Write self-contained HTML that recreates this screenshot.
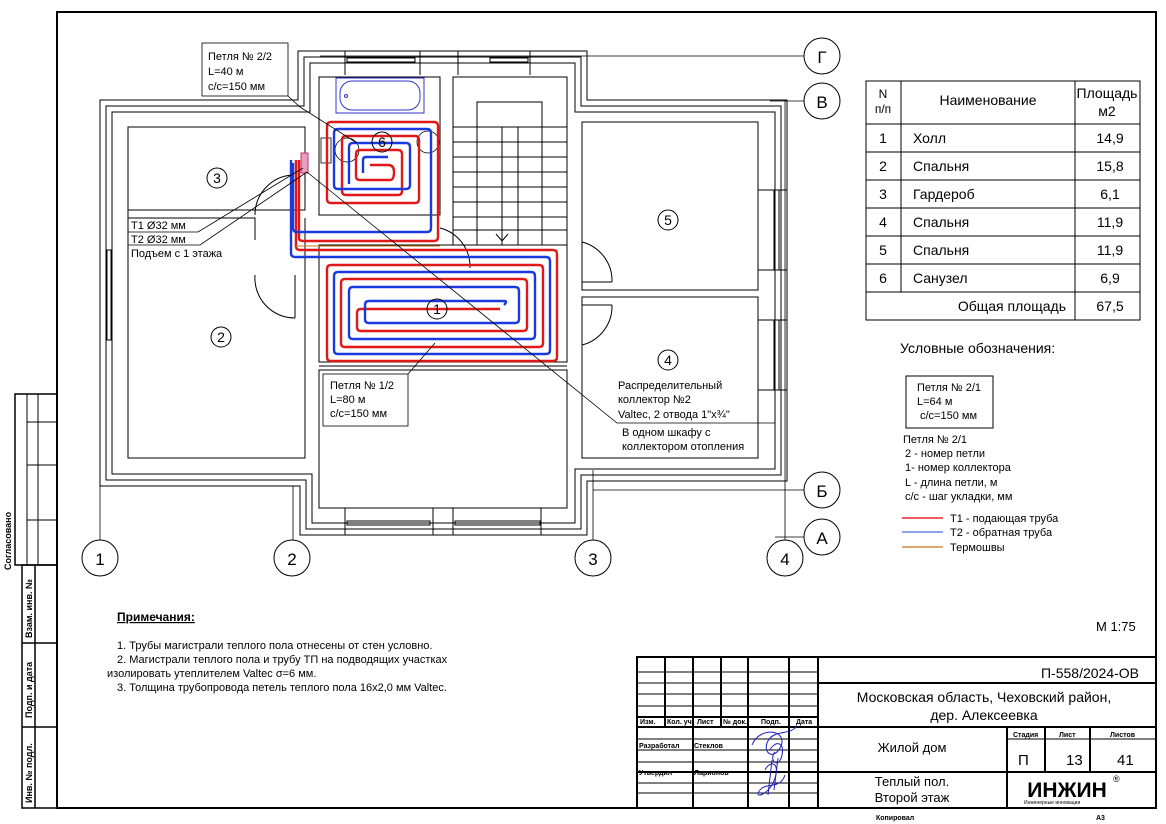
<!DOCTYPE html>
<html><head><meta charset="utf-8"><style>
html,body{margin:0;padding:0;background:#fff}
svg{display:block}
text{font-family:"Liberation Sans",sans-serif;fill:#000}
</style></head><body>
<svg width="1166" height="824" viewBox="0 0 1166 824" xmlns="http://www.w3.org/2000/svg">
<rect width="1166" height="824" fill="#fff"/>
<g stroke="#000" fill="none">
<rect x="57" y="12" width="1099" height="796" stroke-width="2"/>
<polyline points="57,394 15,394 15,565 57,565" stroke-width="1.5"/>
<line x1="27" y1="394" x2="27" y2="565" stroke-width="1"/>
<line x1="38" y1="394" x2="38" y2="565" stroke-width="1"/>
<line x1="27" y1="422" x2="57" y2="422" stroke-width="1"/>
<line x1="27" y1="465" x2="57" y2="465" stroke-width="1"/>
<line x1="27" y1="520" x2="57" y2="520" stroke-width="1"/>
<polyline points="57,565 22,565 22,808 57,808" stroke-width="1.5"/>
<line x1="35" y1="565" x2="35" y2="808" stroke-width="1.5"/>
<line x1="22" y1="643" x2="57" y2="643" stroke-width="1.5"/>
<line x1="22" y1="727" x2="57" y2="727" stroke-width="1.5"/>
</g>
<g font-size="9" font-weight="bold">
<text transform="translate(11,570) rotate(-90)">Согласовано</text>
<text transform="translate(32,638) rotate(-90)">Взам. инв. №</text>
<text transform="translate(32,718) rotate(-90)">Подп. и дата</text>
<text transform="translate(32,803) rotate(-90)">Инв. № подл.</text>
</g>

<g stroke="#000" stroke-width="0.8" fill="none">
<line x1="100" y1="100" x2="100" y2="540"/>
<polyline points="100,486 293,486 293,540"/>
<line x1="593" y1="470" x2="593" y2="540"/>
<line x1="785" y1="100" x2="785" y2="540"/>
<line x1="320" y1="56" x2="804" y2="56"/>
<line x1="770" y1="101" x2="804" y2="101"/>
<line x1="593" y1="490" x2="804" y2="490"/>
<line x1="775" y1="537" x2="804" y2="537"/>
</g>
<g stroke="#000" stroke-width="1" fill="#fff">
<circle cx="100" cy="558" r="18"/><circle cx="292" cy="558" r="18"/>
<circle cx="593" cy="558" r="18"/><circle cx="785" cy="558" r="18"/>
<circle cx="822" cy="56" r="18"/><circle cx="822" cy="101" r="18"/>
<circle cx="822" cy="490" r="18"/><circle cx="822" cy="537" r="18"/>
</g>
<g font-size="17" text-anchor="middle">
<text x="100" y="565">1</text><text x="292" y="565">2</text><text x="593" y="565">3</text><text x="785" y="565">4</text>
<text x="822" y="63">Г</text><text x="822" y="108">В</text><text x="822" y="497">Б</text><text x="822" y="544">А</text>
</g>

<g stroke="#000" stroke-width="1" fill="none">
<polygon points="100,100 298,100 298,51 587,51 587,100 787,100 787,481 587,481 587,535 300,535 300,486 100,486"/>
<polygon points="106,106 304,106 304,57 581,57 581,106 781,106 781,475 581,475 581,529 306,529 306,480 106,480"/>
<polygon points="112,112 310,112 310,63 575,63 575,112 775,112 775,469 575,469 575,523 312,523 312,474 112,474"/>
<rect x="128" y="127" width="177" height="83"/>
<polyline points="128,218 255,218 255,240"/>
<polyline points="305,218 305,458 128,458 128,218"/>
<line x1="128" y1="210" x2="128" y2="218"/>
<rect x="319" y="77" width="121" height="138"/>
<rect x="453" y="77" width="114" height="168"/>
<rect x="477" y="102" width="65" height="143"/>
<line x1="502" y1="127" x2="502" y2="245"/><line x1="518" y1="127" x2="518" y2="245"/>
<line x1="453" y1="127" x2="567" y2="127"/><line x1="453" y1="142" x2="567" y2="142"/>
<line x1="453" y1="157" x2="567" y2="157"/><line x1="453" y1="172" x2="567" y2="172"/>
<line x1="453" y1="187" x2="567" y2="187"/><line x1="453" y1="202" x2="567" y2="202"/>
<line x1="453" y1="217" x2="567" y2="217"/><line x1="453" y1="230" x2="567" y2="230"/>
<polyline points="496,234 502,241 508,234"/>
<rect x="319" y="245" width="248" height="117"/>
<rect x="319" y="370" width="248" height="138"/>
<line x1="319" y1="366" x2="567" y2="366"/>
<rect x="582" y="122" width="176" height="168"/>
<rect x="582" y="297" width="176" height="161"/>
<line x1="458" y1="75" x2="458" y2="51"/><line x1="530" y1="75" x2="530" y2="51"/>
<line x1="345" y1="51" x2="345" y2="75"/><line x1="420" y1="51" x2="420" y2="75"/>
<path d="M255,215 A40,40 0 0 1 292,175"/>
<path d="M255,275 A40,40 0 0 0 295,318"/>
<line x1="295" y1="275" x2="295" y2="318"/>
<path d="M582,242 A40,40 0 0 1 612,282"/>
<path d="M582,345 A40,40 0 0 0 612,305"/>
<line x1="582" y1="282" x2="612" y2="282"/><line x1="582" y1="305" x2="612" y2="305"/>
<path d="M440,228 A40,40 0 0 1 470,268"/>
<rect x="107" y="250" width="4" height="90"/>
<rect x="774" y="190" width="5" height="80"/><rect x="774" y="320" width="5" height="70"/>
<rect x="347" y="521" width="83" height="4"/><rect x="455" y="521" width="85" height="4"/>
<rect x="347" y="58" width="68" height="4"/><rect x="490" y="58" width="38" height="4"/>
<line x1="345" y1="508" x2="345" y2="535"/><line x1="433" y1="508" x2="433" y2="535"/>
<line x1="453" y1="508" x2="453" y2="535"/><line x1="541" y1="508" x2="541" y2="535"/>
<line x1="758" y1="190" x2="787" y2="190"/><line x1="758" y1="270" x2="787" y2="270"/>
<line x1="758" y1="320" x2="787" y2="320"/><line x1="758" y1="390" x2="787" y2="390"/>
</g>
<g stroke="#33c" stroke-width="1" fill="none">
<rect x="336" y="78" width="88" height="35"/>
<rect x="340" y="81" width="80" height="29" rx="12"/>
<circle cx="346" cy="96" r="1.5"/>
</g>
<g stroke="#000" stroke-width="0.8" fill="none">
<circle cx="347" cy="150" r="12"/><circle cx="428" cy="142" r="11"/>
<rect x="321" y="138" width="10" height="25"/>
</g>

<g fill="none" stroke-width="2.4" stroke-linejoin="round">
<path d="M296,160 L296,246 Q296,250 300,250 L553,250 Q557,250 557,254 L557,357 Q557,361 553,361 L331,361 Q327,361 327,357 L327,269 Q327,265 331,265 L539,265 Q543,265 543,269 L543,343 Q543,347 539,347 L345,347 Q341,347 341,343 L341,283 Q341,279 345,279 L523,279 Q527,279 527,283 L527,327 Q527,331 523,331 L361,331 Q357,331 357,327 L357,313 Q357,309 361,309 L500,309" stroke="#e01818"/>
<path d="M291,160 L291,253 Q291,257 295,257 L546,257 Q550,257 550,261 L550,350 Q550,354 546,354 L338,354 Q334,354 334,350 L334,276 Q334,272 338,272 L531,272 Q535,272 535,276 L535,335 Q535,339 531,339 L353,339 Q349,339 349,335 L349,291 Q349,287 353,287 L515,287 Q519,287 519,291 L519,319 Q519,323 515,323 L369,323 Q365,323 365,319 L365,305 Q365,301 369,301 L504,301 Q508,301 504,305" stroke="#1a3ae0"/>
<path d="M299,160 L299,238 Q299,241 303,241 L434,241 Q438,241 438,237 L438,126 Q438,122 434,122 L331,122 Q327,122 327,126 L327,199 Q327,203 331,203 L415,203 Q419,203 419,199 L419,140 Q419,136 415,136 L346,136 Q342,136 342,140 L342,191 Q342,195 346,195 L398,195 Q402,195 402,191 L402,154 Q402,150 398,150 L360,150 Q356,150 356,154 L356,176 Q356,180 360,180 L390,180 Q394,180 394,172 Q394,165 388,165 L370,165" stroke="#e01818"/>
<path d="M293,163 L293,228 Q293,232 297,232 L427,232 Q431,232 431,228 L431,133 Q431,129 427,129 L338,129 Q334,129 334,133 L334,185 Q334,189 338,189 L406,189 Q410,189 410,185 L410,147 Q410,143 406,143 L353,143 Q349,143 349,147 L349,184" stroke="#1a3ae0"/>
<path d="M363,173 L363,160 Q363,157 366,157 L388,157" stroke="#1a3ae0"/>
<line x1="294" y1="246" x2="440" y2="246" stroke="#c8741e" stroke-width="1"/>
</g>
<rect x="301" y="153" width="7" height="20" fill="#e8a0c0" stroke="#c03070" stroke-width="1"/>

<g stroke="#000" stroke-width="1" fill="none">
<circle cx="437" cy="309" r="10"/><circle cx="221" cy="337" r="10"/><circle cx="217" cy="178" r="10"/>
<circle cx="668" cy="360" r="10"/><circle cx="668" cy="220" r="10"/><circle cx="382" cy="142" r="10"/>
</g>
<g font-size="14" text-anchor="middle">
<text x="437" y="314">1</text><text x="221" y="342">2</text><text x="217" y="183">3</text>
<text x="668" y="365">4</text><text x="668" y="225">5</text><text x="382" y="147">6</text>
</g>

<g stroke="#000" stroke-width="0.8" fill="none">
<rect x="202" y="43" width="86" height="53" fill="#fff"/>
<polyline points="288,96 300,107 357,143"/>
<polyline points="128,232 198,232 303,168"/>
<polyline points="128,245 200,245 307,172"/>
<polyline points="307,172 617,423 775,423"/>
<rect x="323" y="374" width="85" height="52" fill="#fff"/>
<line x1="408" y1="374" x2="435" y2="343"/>
</g>
<g font-size="11">
<text x="208" y="60">Петля № 2/2</text><text x="208" y="75">L=40 м</text><text x="208" y="90">c/c=150 мм</text>
<text x="131" y="229">T1 Ø32 мм</text><text x="131" y="243">T2 Ø32 мм</text><text x="131" y="257">Подъем с 1 этажа</text>
<text x="330" y="389">Петля № 1/2</text><text x="330" y="403">L=80 м</text><text x="330" y="417">c/c=150 мм</text>
<text x="618" y="389">Распределительный</text><text x="618" y="403">коллектор №2</text><text x="618" y="418">Valtec, 2 отвода 1"x¾"</text>
<text x="622" y="436">В одном шкафу с</text><text x="622" y="450">коллектором отопления</text>
</g>

<g stroke="#000" stroke-width="1" fill="none">
<rect x="866" y="81" width="274" height="239"/>
<line x1="901" y1="81" x2="901" y2="292"/>
<line x1="1075" y1="81" x2="1075" y2="320"/>
<line x1="866" y1="124" x2="1140" y2="124"/>
<line x1="866" y1="152" x2="1140" y2="152"/>
<line x1="866" y1="180" x2="1140" y2="180"/>
<line x1="866" y1="208" x2="1140" y2="208"/>
<line x1="866" y1="236" x2="1140" y2="236"/>
<line x1="866" y1="264" x2="1140" y2="264"/>
<line x1="866" y1="292" x2="1140" y2="292"/>
</g>
<g font-size="14">
<text x="883" y="98" text-anchor="middle" font-size="12">N</text>
<text x="883" y="113" text-anchor="middle" font-size="12">п/п</text>
<text x="988" y="105" text-anchor="middle">Наименование</text>
<text x="1107" y="98" text-anchor="middle">Площадь</text>
<text x="1107" y="116" text-anchor="middle">м2</text>
<g text-anchor="middle"><text x="883" y="143">1</text><text x="883" y="171">2</text><text x="883" y="199">3</text><text x="883" y="227">4</text><text x="883" y="255">5</text><text x="883" y="283">6</text></g>
<text x="913" y="143">Холл</text><text x="913" y="171">Спальня</text><text x="913" y="199">Гардероб</text><text x="913" y="227">Спальня</text><text x="913" y="255">Спальня</text><text x="913" y="283">Санузел</text>
<g text-anchor="middle"><text x="1110" y="143">14,9</text><text x="1110" y="171">15,8</text><text x="1110" y="199">6,1</text><text x="1110" y="227">11,9</text><text x="1110" y="255">11,9</text><text x="1110" y="283">6,9</text><text x="1110" y="311">67,5</text></g>
<text x="1066" y="311" text-anchor="end">Общая площадь</text>
</g>

<text x="900" y="353" font-size="14">Условные обозначения:</text>
<rect x="906" y="376" width="87" height="52" fill="none" stroke="#000" stroke-width="1"/>
<g font-size="11">
<text x="917" y="391">Петля № 2/1</text><text x="917" y="405">L=64 м</text><text x="920" y="419">c/c=150 мм</text>
<text x="903" y="443">Петля № 2/1</text><text x="905" y="457">2 - номер петли</text><text x="905" y="471">1- номер коллектора</text>
<text x="905" y="486">L - длина петли, м</text><text x="905" y="500">c/c - шаг укладки, мм</text>
<text x="950" y="522">T1 - подающая труба</text><text x="950" y="536">T2 - обратная труба</text><text x="950" y="551">Термошвы</text>
</g>
<line x1="902" y1="518" x2="943" y2="518" stroke="#d00" stroke-width="1.2"/>
<line x1="902" y1="532" x2="943" y2="532" stroke="#4a6ee0" stroke-width="1.2"/>
<line x1="902" y1="547" x2="943" y2="547" stroke="#c8741e" stroke-width="1.2"/>

<text x="117" y="621" font-size="12" font-weight="bold" text-decoration="underline">Примечания:</text>
<g font-size="11">
<text x="117" y="649">   1.    Трубы магистрали теплого пола отнесены от стен условно.</text>
<text x="117" y="663">   2.    Магистрали теплого пола и трубу ТП на подводящих участках</text>
<text x="107" y="677">изолировать утеплителем Valtec σ=6 мм.</text>
<text x="117" y="691">   3.    Толщина трубопровода петель теплого пола 16х2,0 мм Valtec.</text>
</g>
<text x="1096" y="631" font-size="13">М 1:75</text>

<g stroke="#000" fill="none">
<rect x="637" y="657" width="519" height="151" stroke-width="2"/>
<line x1="818" y1="657" x2="818" y2="808" stroke-width="2"/>
<line x1="665" y1="657" x2="665" y2="727" stroke-width="2"/>
<line x1="693" y1="657" x2="693" y2="808" stroke-width="2"/>
<line x1="721" y1="657" x2="721" y2="727" stroke-width="2"/>
<line x1="748" y1="657" x2="748" y2="808" stroke-width="2"/>
<line x1="789" y1="657" x2="789" y2="808" stroke-width="2"/>
<g stroke-width="1"><line x1="637" y1="672" x2="818" y2="672"/><line x1="637" y1="683" x2="818" y2="683"/>
<line x1="637" y1="694" x2="818" y2="694"/><line x1="637" y1="706" x2="818" y2="706"/>
<line x1="637" y1="739" x2="818" y2="739"/><line x1="637" y1="750" x2="818" y2="750"/>
<line x1="637" y1="762" x2="818" y2="762"/><line x1="637" y1="783" x2="818" y2="783"/>
<line x1="637" y1="793" x2="818" y2="793"/></g>
<line x1="637" y1="717" x2="818" y2="717" stroke-width="2"/>
<line x1="637" y1="727" x2="1156" y2="727" stroke-width="2"/>
<line x1="637" y1="772" x2="1156" y2="772" stroke-width="2"/>
<line x1="818" y1="683" x2="1156" y2="683" stroke-width="2"/>
<line x1="1007" y1="727" x2="1007" y2="808" stroke-width="2"/>
<line x1="1045" y1="727" x2="1045" y2="772" stroke-width="2"/>
<line x1="1090" y1="727" x2="1090" y2="772" stroke-width="2"/>
<line x1="1007" y1="739" x2="1156" y2="739" stroke-width="1"/>
</g>
<g font-size="7" font-weight="bold">
<text x="640" y="724">Изм.</text><text x="667" y="724">Кол. уч.</text><text x="697" y="724">Лист</text><text x="723" y="724">№ док.</text><text x="761" y="724">Подп.</text><text x="796" y="724">Дата</text>
<text x="639" y="748">Разработал</text><text x="694" y="748">Стеклов</text>
<text x="639" y="775">Утвердил</text><text x="694" y="775">Ларионов</text>
<text x="1013" y="737">Стадия</text><text x="1059" y="737">Лист</text><text x="1110" y="737">Листов</text>
<text x="876" y="820">Копировал</text><text x="1096" y="820">А3</text>
</g>
<g font-size="14">
<text x="1139" y="678" text-anchor="end">П-558/2024-ОВ</text>
<text x="984" y="702" text-anchor="middle">Московская область, Чеховский район,</text>
<text x="984" y="720" text-anchor="middle">дер. Алексеевка</text>
<text x="912" y="752" text-anchor="middle" font-size="13">Жилой дом</text>
<text x="1018" y="765" font-size="15">П</text><text x="1066" y="765" font-size="15">13</text><text x="1117" y="765" font-size="15">41</text>
<text x="912" y="786" text-anchor="middle" font-size="13">Теплый пол.</text>
<text x="912" y="802" text-anchor="middle" font-size="13">Второй этаж</text>
</g>
<text x="1067" y="797" font-size="21" font-weight="bold" text-anchor="middle" fill="#111">ИНЖИН</text>
<text x="1113" y="782" font-size="9">®</text>
<text x="1024" y="804" font-size="5" fill="#2a9a2a">Инженерные инновации</text>
<g stroke="#2020c0" stroke-width="1" fill="none">
<path d="M752,745 C760,725 790,730 780,748 C772,762 760,750 770,738 C778,730 790,735 797,726"/>
<path d="M770,750 C775,740 785,742 782,755 C779,770 768,760 775,752"/>
<path d="M765,770 C770,760 780,762 775,778 C770,795 752,800 760,790 C766,782 780,790 785,775"/>
<path d="M772,760 L768,795 M778,758 L774,790"/>
</g>
</svg>
</body></html>
